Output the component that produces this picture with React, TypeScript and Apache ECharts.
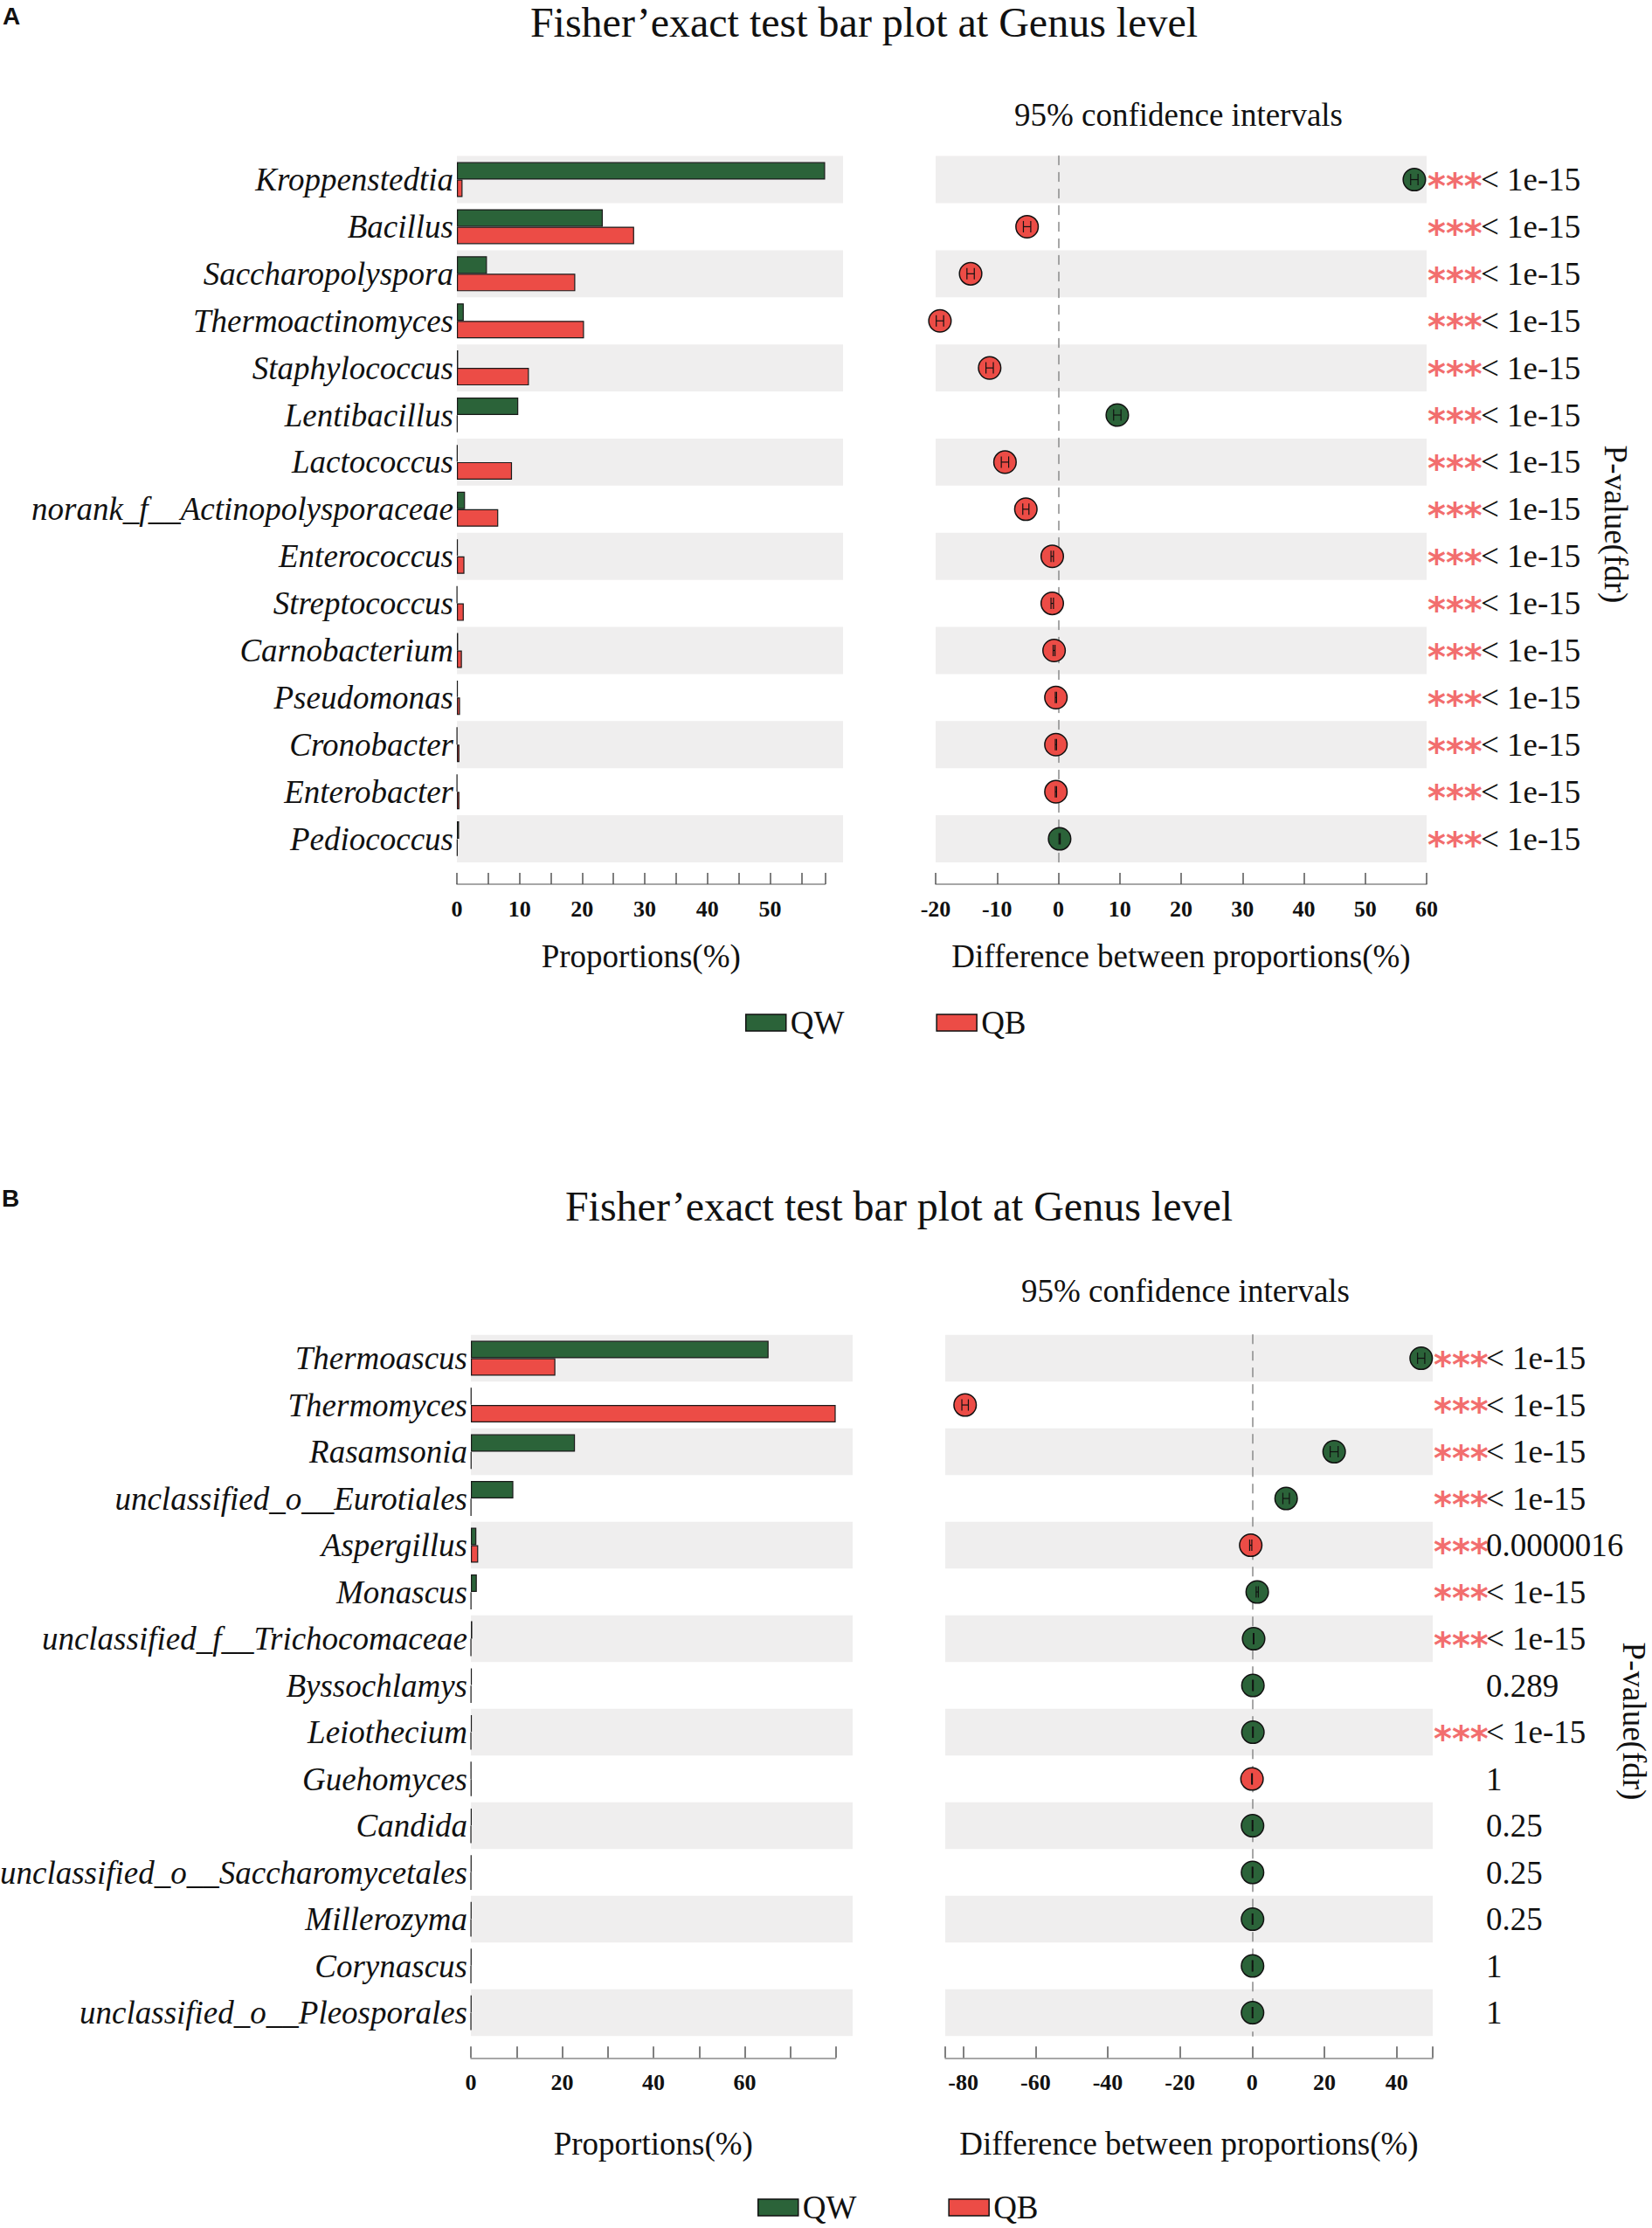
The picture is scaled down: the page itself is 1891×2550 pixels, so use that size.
import React, { useEffect, useRef } from 'react';
import * as echarts from 'echarts';

// ---------------- Panel A data ----------------
const catsA = ['Kroppenstedtia', 'Bacillus', 'Saccharopolyspora', 'Thermoactinomyces', 'Staphylococcus', 'Lentibacillus', 'Lactococcus', 'norank_f__Actinopolysporaceae', 'Enterococcus', 'Streptococcus', 'Carnobacterium', 'Pseudomonas', 'Cronobacter', 'Enterobacter', 'Pediococcus'];
const qwA = [58.8, 23.3, 4.8, 1.1, 0.2, 9.8, 0.1, 1.3, 0.15, 0.03, 0.2, 0.15, 0.03, 0.03, 0.35];
const qbA = [0.9, 28.3, 18.9, 20.3, 11.5, 0.1, 8.8, 6.6, 1.2, 1.1, 0.8, 0.5, 0.4, 0.4, 0.1];
const ciA = [58.0, -5.1, -14.3, -19.3, -11.2, 9.6, -8.7, -5.3, -1.0, -1.0, -0.7, -0.4, -0.4, -0.4, 0.2];
const ciLowA = [57.4, -5.7, -14.9, -19.9, -11.8, 9.0, -9.3, -5.8, -1.2, -1.2, -0.85, -0.5, -0.5, -0.5, 0.1];
const ciHighA = [58.6, -4.5, -13.7, -18.7, -10.6, 10.2, -8.1, -4.8, -0.8, -0.8, -0.55, -0.3, -0.3, -0.3, 0.3];
const starsA = ['***', '***', '***', '***', '***', '***', '***', '***', '***', '***', '***', '***', '***', '***', '***'];
const pvA = ['< 1e-15', '< 1e-15', '< 1e-15', '< 1e-15', '< 1e-15', '< 1e-15', '< 1e-15', '< 1e-15', '< 1e-15', '< 1e-15', '< 1e-15', '< 1e-15', '< 1e-15', '< 1e-15', '< 1e-15'];
const barTicksA = [0, 5, 10, 15, 20, 25, 30, 35, 40, 45, 50, 55];
const barLabelsA = [0, 10, 20, 30, 40, 50];
const ciTicksA = [-20, -10, 0, 10, 20, 30, 40, 50, 60];
const ciLabelsA = [-20, -10, 0, 10, 20, 30, 40, 50, 60];

// ---------------- Panel B data ----------------
const catsB = ['Thermoascus', 'Thermomyces', 'Rasamsonia', 'unclassified_o__Eurotiales', 'Aspergillus', 'Monascus', 'unclassified_f__Trichocomaceae', 'Byssochlamys', 'Leiothecium', 'Guehomyces', 'Candida', 'unclassified_o__Saccharomycetales', 'Millerozyma', 'Corynascus', 'unclassified_o__Pleosporales'];
const qwB = [65.2, 0.1, 22.8, 9.3, 1.2, 1.3, 0.3, 0.2, 0.2, 0.05, 0.15, 0.1, 0.1, 0.1, 0.1];
const qbB = [18.5, 79.9, 0.1, 0.05, 1.6, 0.05, 0.02, 0.05, 0.02, 0.1, 0.02, 0.02, 0.02, 0.02, 0.02];
const ciB = [46.8, -79.5, 22.7, 9.4, -0.4, 1.4, 0.4, 0.2, 0.2, -0.05, 0.1, 0.1, 0.1, 0.1, 0.1];
const ciLowB = [45.8, -80.4, 21.6, 8.5, -0.7, 1.1, 0.3, 0.1, 0.1, -0.15, 0.0, 0.0, 0.0, 0.0, 0.0];
const ciHighB = [47.8, -78.6, 23.8, 10.3, -0.1, 1.7, 0.5, 0.3, 0.3, 0.05, 0.2, 0.2, 0.2, 0.2, 0.2];
const starsB = ['***', '***', '***', '***', '***', '***', '***', '', '***', '', '', '', '', '', ''];
const pvB = ['< 1e-15', '< 1e-15', '< 1e-15', '< 1e-15', '0.0000016', '< 1e-15', '< 1e-15', '0.289', '< 1e-15', '1', '0.25', '0.25', '0.25', '1', '1'];
const barTicksB = [0, 10, 20, 30, 40, 50, 60, 70];
const barLabelsB = [0, 20, 40, 60];
const ciTicksB = [-85, -80, -60, -40, -20, 0, 20, 40, 50];
const ciLabelsB = [-80, -60, -40, -20, 0, 20, 40];
const ciMinB = -85;
const ciMaxB = 50;

const legendNames = ['QW', 'QB'];
const titleText = 'Fisher\u2019exact test bar plot at Genus level';

const GREEN = '#2b6339';
const RED = '#ec4c46';
const BAND = '#efeeee';
const STAR = '#f26e6e';
const INK = '#111111';
const SERIF = '"Liberation Serif", "Times New Roman", serif';
const SANS = '"Liberation Sans", Arial, sans-serif';
const STARFONT = '"DejaVu Sans", "Liberation Sans", sans-serif';

function buildPanel(p: any, gi: number, yi: number) {
  const grids = [
    { left: p.bandLeft, top: p.top, width: p.bandRight - p.bandLeft, height: p.height, outerBoundsMode: 'none' },
    { left: p.bandLeft, top: p.top, width: p.barRight - p.bandLeft, height: p.height, outerBoundsMode: 'none' },
    { left: p.ciLeft, top: p.top, width: p.ciRight - p.ciLeft, height: p.height, outerBoundsMode: 'none' },
  ];
  const axisBase = (gridIndex: number, min: number, max: number, ticks: number[], labels: number[], name: string) => ({
    type: 'value', gridIndex, min, max, position: 'bottom', offset: 25,
    axisLine: { show: true, onZero: false, lineStyle: { color: '#8a8a8a', width: 1.5 } },
    axisTick: { show: true, inside: true, length: 13, customValues: ticks, lineStyle: { color: '#555', width: 1.5 } },
    axisLabel: { customValues: labels, margin: 15, fontFamily: SERIF, fontWeight: 'bold', fontSize: 26, color: INK },
    splitLine: { show: false },
    name, nameLocation: 'middle', nameGap: p.nameGap,
    nameTextStyle: { fontFamily: SERIF, fontSize: 37, color: INK },
  });
  const barMax = Math.max(...p.qw, ...p.qb);
  const xAxes = [
    { type: 'value', gridIndex: gi, min: 0, max: 1, show: false },
    axisBase(gi + 1, 0, barMax, [...p.barTicks, barMax], p.barLabels, 'Proportions(%)'),
    axisBase(gi + 2, p.ciMin, p.ciMax, p.ciTicks, p.ciLabels, 'Difference between proportions(%)'),
  ];
  const catBase = (gridIndex: number) => ({ type: 'category', gridIndex, data: p.cats, inverse: true });
  const yAxes = [
    {
      ...catBase(gi),
      axisLine: { show: false }, axisTick: { show: false },
      axisLabel: { interval: 0, margin: 4, fontStyle: 'italic', fontFamily: SERIF, fontSize: 37, color: INK },
      splitArea: { show: true, interval: 0, areaStyle: { color: [BAND, 'rgba(255,255,255,0)'] } },
      splitLine: { show: false },
    },
    { ...catBase(gi + 1), show: false },
    {
      ...catBase(gi + 2),
      axisLine: { show: true, onZero: true, lineStyle: { color: '#8a8a8a', type: [10, 9], width: 1.5 } },
      axisTick: { show: false }, axisLabel: { show: false },
      splitArea: { show: true, interval: 0, areaStyle: { color: [BAND, 'rgba(255,255,255,0)'] } },
      splitLine: { show: false },
    },
    {
      ...catBase(gi + 2), position: 'right', offset: 0,
      axisLine: { show: false, onZero: false }, axisTick: { show: false },
      axisLabel: {
        interval: 0, margin: 1, formatter: (_v: string, i: number) => p.stars[i],
        fontFamily: STARFONT, fontWeight: 'bold', fontSize: 40, color: STAR,
        verticalAlign: 'top', lineHeight: 14.5,
      },
    },
    {
      ...catBase(gi + 2), position: 'right', offset: 0,
      axisLine: { show: false, onZero: false }, axisTick: { show: false },
      axisLabel: {
        interval: 0, margin: p.pGap, formatter: (_v: string, i: number) => p.pv[i],
        fontFamily: SERIF, fontSize: 37, color: INK,
      },
    },
  ];
  const barStyle = (c: string) => ({ color: c, borderColor: '#1a1a1a', borderWidth: 1.2 });
  const series = [
    {
      type: 'bar', name: 'QW', xAxisIndex: gi + 1, yAxisIndex: yi + 1, data: p.qw,
      barWidth: 20, barGap: '0%', itemStyle: barStyle(GREEN), silent: true,
    },
    {
      type: 'bar', name: 'QB', xAxisIndex: gi + 1, yAxisIndex: yi + 1, data: p.qb,
      barWidth: 20, barGap: '0%', itemStyle: barStyle(RED), silent: true,
    },
    {
      type: 'custom', name: 'ci' + gi, xAxisIndex: gi + 2, yAxisIndex: yi + 2, silent: true,
      encode: { x: 0, y: 1 },
      data: p.ci.map((d: number, i: number) => [d, i, p.ciLow[i], p.ciHigh[i]]),
      renderItem: (_params: any, api: any) => {
        const idx = api.value(1);
        const c = api.coord([api.value(0), idx]);
        const lo = api.coord([api.value(2), idx]);
        const hi = api.coord([api.value(3), idx]);
        const ls = { stroke: INK, lineWidth: 1.2 };
        return {
          type: 'group',
          children: [
            { type: 'ellipse', shape: { cx: c[0], cy: c[1], rx: 12.8, ry: 12.8 }, style: { fill: api.value(0) >= 0 ? GREEN : RED, stroke: INK, lineWidth: 1.5 } },
            { type: 'line', shape: { x1: lo[0], y1: c[1], x2: hi[0], y2: c[1] }, style: ls },
            { type: 'line', shape: { x1: lo[0], y1: c[1] - 6.5, x2: lo[0], y2: c[1] + 6.5 }, style: ls },
            { type: 'line', shape: { x1: hi[0], y1: c[1] - 6.5, x2: hi[0], y2: c[1] + 6.5 }, style: ls },
          ],
        };
      },
    },
  ];
  const legend = {
    left: p.legendLeft, top: p.legendTop, padding: 0, itemWidth: 46, itemHeight: 19, itemGap: 105,
    icon: 'rect', data: legendNames, selectedMode: false,
    textStyle: { fontFamily: SERIF, fontSize: 37, color: INK },
    itemStyle: { borderColor: '#111', borderWidth: 1.5 },
  };
  const txt = (x: number, y: number, text: string, fontSize: number, extra: any = {}) => ({
    type: 'text', x, y, silent: true, ...extra,
    style: { text, fontSize, fontFamily: SERIF, fill: INK, align: 'center', verticalAlign: 'middle', ...(extra.style || {}) },
  });
  const graphics = [
    txt(p.letterX, p.letterY, p.letter, 28, { style: { fontFamily: SANS, fontWeight: 'bold', align: 'left' } }),
    txt(p.titleX, p.titleY, titleText, 48),
    txt(p.ciTitleX, p.ciTitleY, '95% confidence intervals', 37),
    txt(p.pTitleX, p.pTitleY, 'P-value(fdr)', 37, { rotation: -Math.PI / 2 }),
  ];
  return { grids, xAxes, yAxes, series, legend, graphics };
}

const panelA = buildPanel({
  cats: catsA, qw: qwA, qb: qbA, ci: ciA, ciLow: ciLowA, ciHigh: ciHighA, stars: starsA, pv: pvA,
  top: 178.6, height: 808.4, bandLeft: 523, bandRight: 965, barRight: 944.5,
  barTicks: barTicksA, barLabels: barLabelsA,
  ciLeft: 1071, ciRight: 1633, ciMin: -20, ciMax: 60, ciTicks: ciTicksA, ciLabels: ciLabelsA,
  nameGap: 64, pGap: 62, legendLeft: 853, legendTop: 1152,
  letter: 'A', letterX: 3, letterY: 18, titleX: 989, titleY: 25, ciTitleX: 1349, ciTitleY: 131, pTitleX: 1849, pTitleY: 600,
}, 0, 0);

const panelB = buildPanel({
  cats: catsB, qw: qwB, qb: qbB, ci: ciB, ciLow: ciLowB, ciHigh: ciHighB, stars: starsB, pv: pvB,
  top: 1527.8, height: 802.5, bandLeft: 539, bandRight: 976, barRight: 956.6,
  barTicks: barTicksB, barLabels: barLabelsB,
  ciLeft: 1082, ciRight: 1640, ciMin: ciMinB, ciMax: ciMaxB, ciTicks: ciTicksB, ciLabels: ciLabelsB,
  nameGap: 80, pGap: 61, legendLeft: 867, legendTop: 2508,
  letter: 'B', letterX: 2, letterY: 1371, titleX: 1029, titleY: 1380, ciTitleX: 1357, ciTitleY: 1477, pTitleX: 1870, pTitleY: 1970,
}, 3, 5);

export default function App() {
  const ref = useRef<HTMLDivElement>(null);
  useEffect(() => {
    if (!ref.current) return;
    const chart = echarts.init(ref.current, undefined, { renderer: 'svg' });
    chart.setOption({
      animation: false,
      backgroundColor: '#ffffff',
      grid: [...panelA.grids, ...panelB.grids],
      xAxis: [...panelA.xAxes, ...panelB.xAxes],
      yAxis: [...panelA.yAxes, ...panelB.yAxes],
      series: [...panelA.series, ...panelB.series],
      legend: [panelA.legend, panelB.legend],
      graphic: [...panelA.graphics, ...panelB.graphics],
    });
    return () => chart.dispose();
  }, []);
  return <div ref={ref} style={{ position: 'absolute', left: 0, top: 0, width: 1891, height: 2550 }} />;
}
